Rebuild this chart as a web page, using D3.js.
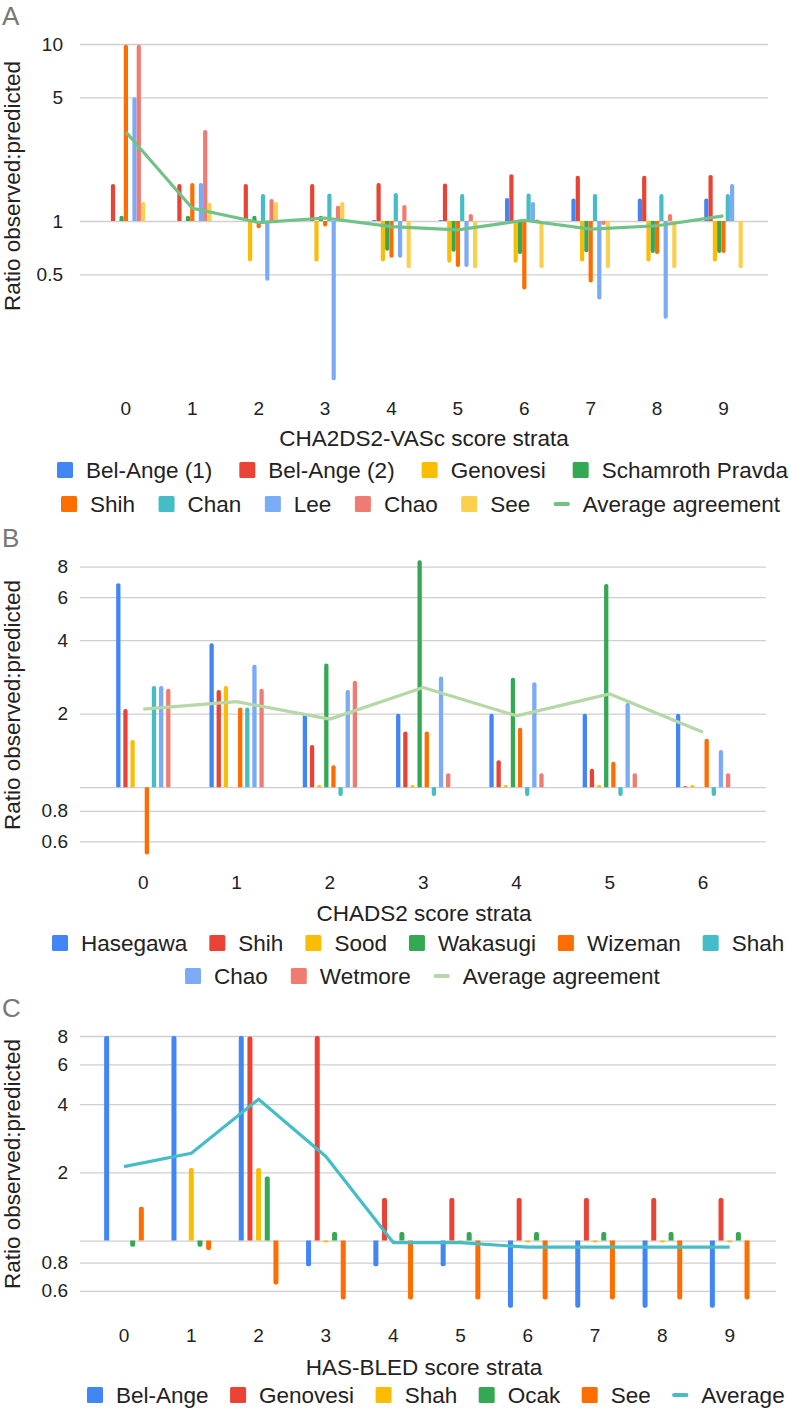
<!DOCTYPE html>
<html>
<head>
<meta charset="utf-8">
<title>Ratio observed:predicted</title>
<style>
  body { margin: 0; background: #fff; }
  svg { display: block; }
  text { font-family: "Liberation Sans", Arial, sans-serif; }
</style>
</head>
<body>
<svg id="chart" width="791" height="1409"></svg>
<script src="https://d3js.org/d3.v7.min.js"></script>
<script>
// ---- panel A : CHA2DS2-VASc ----
const vascStrata = ['0', '1', '2', '3', '4', '5', '6', '7', '8', '9'];
const vascSeries = ['Bel-Ange (1)', 'Bel-Ange (2)', 'Genovesi', 'Schamroth Pravda', 'Shih', 'Chan', 'Lee', 'Chao', 'See'];
const vascBelAnge1 = [null, null, null, null, 1.0, 1.0, 1.35, 1.34, 1.34, 1.34];
const vascBelAnge2 = [1.62, 1.62, 1.62, 1.62, 1.64, 1.63, 1.84, 1.8, 1.8, 1.82];
const vascGenovesi = [null, null, 0.59, 0.59, 0.59, 0.58, 0.58, 0.59, 0.59, 0.59];
const vascSchamroth = [1.07, 1.07, 1.07, 1.07, 0.68, 0.67, 0.65, 0.665, 0.66, 0.66];
const vascShih = [9.9, 1.64, 0.91, 0.93, 0.62, 0.55, 0.41, 0.45, 0.65, 0.66];
const vascChan = [null, null, 1.42, 1.43, 1.44, 1.42, 1.43, 1.42, 1.42, 1.42];
const vascLee = [5.0, 1.64, 0.46, 0.126, 0.62, 0.55, 1.28, 0.36, 0.28, 1.62];
const vascChao = [9.9, 3.27, 1.33, 1.22, 1.23, 1.095, 1.02, 0.95, 1.095, null];
const vascSee = [1.28, 1.27, 1.28, 1.28, 0.54, 0.54, 0.54, 0.54, 0.54, 0.54];
const vascAverage = [3.18, 1.18, 0.98, 1.04, 0.93, 0.89, 1.01, 0.9, 0.94, 1.07];
const vascTicks = [0.5, 1, 5, 10];

// ---- panel B : CHADS2 ----
const chadsStrata = ['0', '1', '2', '3', '4', '5', '6'];
const chadsSeries = ['Hasegawa', 'Shih', 'Sood', 'Wakasugi', 'Wizeman', 'Shah', 'Chao', 'Wetmore'];
const chadsHasegawa = [6.85, 3.89, 2.0, 2.0, 2.0, 2.0, 2.0];
const chadsShih = [2.09, 2.5, 1.49, 1.69, 1.29, 1.19, 1.0];
const chadsSood = [1.56, 2.6, 1.02, 1.02, 1.02, 1.02, 1.02];
const chadsWakasugi = [null, null, 3.21, 8.5, 2.81, 6.8, null];
const chadsWizeman = [0.53, 2.12, 1.23, 1.69, 1.75, 1.27, 1.58];
const chadsShah = [2.6, 2.12, 0.92, 0.92, 0.92, 0.92, 0.92];
const chadsChao = [2.6, 3.17, 2.5, 2.84, 2.69, 2.21, 1.42];
const chadsWetmore = [2.53, 2.53, 2.73, 1.14, 1.14, 1.14, 1.14];
const chadsAverage = [2.09, 2.24, 1.9, 2.56, 1.96, 2.41, 1.68];
const chadsTicks = [0.6, 0.8, 1, 2, 4, 6, 8];

// ---- panel C : HAS-BLED ----
const bledStrata = ['0', '1', '2', '3', '4', '5', '6', '7', '8', '9'];
const bledSeries = ['Bel-Ange', 'Genovesi', 'Shah', 'Ocak', 'See'];
const bledBelAnge = [8, 8, 8, 0.77, 0.77, 0.77, 0.505, 0.505, 0.505, 0.505];
const bledGenovesi = [null, null, 7.95, 8, 1.54, 1.54, 1.54, 1.54, 1.54, 1.54];
const bledShah = [null, 2.09, 2.09, 0.98, 0.98, 0.98, 0.98, 0.98, 0.98, 0.98];
const bledOcak = [0.94, 0.94, 1.92, 1.09, 1.09, 1.09, 1.09, 1.09, 1.09, 1.09];
const bledSee = [1.41, 0.91, 0.64, 0.55, 0.55, 0.55, 0.55, 0.55, 0.55, 0.55];
const bledAverage = [2.12, 2.43, 4.21, 2.35, 0.98, 0.98, 0.935, 0.935, 0.935, 0.935];
const bledTicks = [0.6, 0.8, 1, 2, 4, 6, 8];

const palette = ['#4285F4', '#EA4335', '#FBBC04', '#34A853', '#FF6D01', '#46BDC6', '#7BAAF7', '#F07B72', '#FCD04F'];

const svg = d3.select('#chart');
svg.append('rect').attr('width', 791).attr('height', 1409).attr('fill', '#fff');

// bar with rounded far end
function barPath(x, w, yb, yt) {
  const h = Math.abs(yt - yb);
  const r = Math.min(w / 2, h, 2);
  const d = yt < yb ? 1 : -1;
  return `M${x},${yb}L${x},${yt + d * r}Q${x},${yt} ${x + r},${yt}L${x + w - r},${yt}Q${x + w},${yt} ${x + w},${yt + d * r}L${x + w},${yb}Z`;
}

function drawPanel(p) {
  const g = svg.append('g');

  g.append('text').attr('x', 2).attr('y', p.letterY)
    .attr('fill', '#777').style('font-size', '26px').text(p.letter);

  const y = d3.scaleLog().base(p.base).domain(p.yDomain).range(p.yRange);
  const x = d3.scaleBand().domain(p.strata).range(p.xRange);
  const inner = d3.scaleBand().domain(p.series).range([-p.groupW / 2, p.groupW / 2]);

  // gridlines + y labels
  const yAxis = d3.axisLeft(y).tickValues(p.ticks)
    .tickSize(-(p.gridRight - 80)).tickPadding(p.tickPad)
    .tickFormat(d => (p.hideOne && d === 1) ? '' : d3.format('~g')(d));
  const ya = g.append('g').attr('transform', 'translate(80,0)').call(yAxis);
  ya.select('.domain').remove();
  ya.selectAll('line').attr('stroke', '#cfcfcf').attr('stroke-width', 1.3);
  ya.selectAll('text').attr('fill', '#222').style('font-size', '19px')
    .style('font-family', '"Liberation Sans", Arial, sans-serif');

  // x labels
  const xa = g.append('g').attr('transform', `translate(0,${p.xLabelY})`)
    .call(d3.axisBottom(x).tickSize(0).tickPadding(0));
  xa.select('.domain').remove();
  xa.selectAll('text').attr('y', 0).attr('dy', '0.35em').attr('fill', '#222')
    .style('font-size', '19px').style('font-family', '"Liberation Sans", Arial, sans-serif');

  // bars
  const y1 = y(1);
  p.values.forEach((vals, si) => {
    g.append('g').selectAll('path')
      .data(vals.map((v, i) => ({ v, cat: p.strata[i] })).filter(d => d.v != null))
      .join('path')
      .attr('fill', palette[si])
      .attr('d', d => {
        const bx = x(d.cat) + x.bandwidth() / 2 + inner(p.series[si]) + (inner.bandwidth() - p.barW) / 2;
        let yt = y(d.v);
        if (Math.abs(yt - y1) < 1) yt = y1 - 1;
        return barPath(bx, p.barW, y1, yt);
      });
  });

  // average line
  const line = d3.line()
    .x((d, i) => x(p.strata[i]) + x.bandwidth() / 2)
    .y(d => y(d));
  g.append('path').datum(p.average)
    .attr('d', line).attr('fill', 'none')
    .attr('stroke', p.avgColor).attr('stroke-width', 3.2)
    .attr('stroke-linejoin', 'round');

  // axis titles
  g.append('text').attr('x', p.titleX).attr('y', p.titleY)
    .attr('text-anchor', 'middle').attr('dy', '0.35em')
    .attr('fill', '#222').style('font-size', '22.5px').text(p.xTitle);
  g.append('text')
    .attr('transform', `translate(20,${p.yTitleY}) rotate(-90)`)
    .attr('text-anchor', 'middle')
    .attr('fill', '#222').style('font-size', '22.5px').text('Ratio observed:predicted');

  // legend
  const names = p.series.concat([p.avgName]);
  const colors = palette.slice(0, p.series.length).concat([p.avgColor]);
  p.legendRows.forEach(row => {
    let cx = row.x;
    row.items.forEach(i => {
      const item = g.append('g').attr('transform', `translate(${cx},${row.y})`);
      if (i < p.series.length) {
        item.append('rect').attr('x', 0).attr('y', -8).attr('width', 16).attr('height', 16)
          .attr('rx', 1.5).attr('fill', colors[i]);
      } else {
        item.append('rect').attr('x', 0).attr('y', -2).attr('width', 16).attr('height', 4)
          .attr('rx', 1.5).attr('fill', colors[i]);
      }
      const t = item.append('text').attr('x', 29).attr('dy', '0.35em')
        .attr('fill', '#222').style('font-size', '22.5px').text(names[i]);
      cx += 29 + t.node().getComputedTextLength() + row.gap;
    });
  });
}

drawPanel({
  letter: 'A', letterY: 25,
  strata: vascStrata, series: vascSeries,
  values: [vascBelAnge1, vascBelAnge2, vascGenovesi, vascSchamroth, vascShih, vascChan, vascLee, vascChao, vascSee],
  average: vascAverage, avgName: 'Average agreement', avgColor: '#71C287',
  base: 10, yDomain: [0.1, 10], yRange: [398, 44], ticks: vascTicks, hideOne: false, tickPad: 17,
  xRange: [92.7, 756.7], groupW: 38.7, barW: 4.2, gridRight: 768,
  xLabelY: 408, xTitle: 'CHA2DS2-VASc score strata', titleX: 424, titleY: 438, yTitleY: 186,
  legendRows: [{ items: [0, 1, 2, 3], x: 57, y: 470, gap: 27 }, { items: [4, 5, 6, 7, 8, 9], x: 61, y: 504, gap: 23.5 }]
});

drawPanel({
  letter: 'B', letterY: 547,
  strata: chadsStrata, series: chadsSeries,
  values: [chadsHasegawa, chadsShih, chadsSood, chadsWakasugi, chadsWizeman, chadsShah, chadsChao, chadsWetmore],
  average: chadsAverage, avgName: 'Average agreement', avgColor: '#B6D7A8',
  base: 2, yDomain: [0.5, 8], yRange: [860.7, 566.7], ticks: chadsTicks, hideOne: true, tickPad: 12,
  xRange: [96.65, 749.75], groupW: 57.1, barW: 4.3, gridRight: 766,
  xLabelY: 882, xTitle: 'CHADS2 score strata', titleX: 424, titleY: 913, yTitleY: 705,
  legendRows: [{ items: [0, 1, 2, 3, 4, 5], x: 52, y: 943, gap: 22 }, { items: [6, 7, 8], x: 185, y: 976, gap: 23 }]
});

drawPanel({
  letter: 'C', letterY: 1017,
  strata: bledStrata, series: bledSeries,
  values: [bledBelAnge, bledGenovesi, bledShah, bledOcak, bledSee],
  average: bledAverage, avgName: 'Average', avgColor: '#46BDC6',
  base: 2, yDomain: [0.5, 8], yRange: [1308.8, 1036], ticks: bledTicks, hideOne: true, tickPad: 12,
  xRange: [90.35, 763.35], groupW: 43.35, barW: 5, gridRight: 776,
  xLabelY: 1335, xTitle: 'HAS-BLED score strata', titleX: 424, titleY: 1367, yTitleY: 1164,
  legendRows: [{ items: [0, 1, 2, 3, 4, 5], x: 87, y: 1395, gap: 21.5 }]
});
</script>
</body>
</html>
